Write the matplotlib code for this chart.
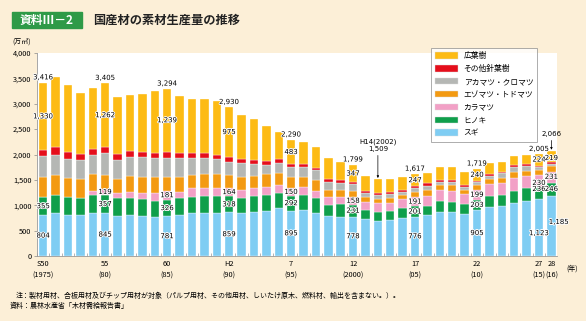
import numpy as np
import matplotlib
matplotlib.use("Agg")
import matplotlib.pyplot as plt
import matplotlib.patheffects as pe
from matplotlib.patches import Patch, Rectangle

plt.rcParams['font.family'] = ['Noto Sans CJK JP', 'DejaVu Sans']

# 素材生産量（万㎥）1975(S50)〜2016(H28)
years = list(range(1975, 2017))
sugi = [804, 841, 808, 808, 841, 845, 788, 808, 788, 775,
        781, 808, 841, 841, 841, 859, 841, 874, 894, 940,
        895, 907, 854, 788, 775, 778, 723, 696, 710, 742,
        776, 808, 874, 874, 821, 905, 972, 986, 1051, 1091,
        1123, 1185]
hinoki = [355, 355, 348, 342, 368, 357, 349, 342, 336, 316,
          326, 335, 329, 342, 348, 318, 309, 309, 308, 308,
          292, 295, 283, 217, 243, 231, 184, 178, 177, 197,
          201, 178, 210, 197, 204, 203, 211, 216, 230, 243,
          236, 246]
karamatsu = [0, 0, 0, 0, 79, 119, 98, 105, 124, 157,
             181, 125, 164, 151, 158, 164, 151, 151, 151, 152,
             150, 151, 151, 151, 138, 158, 164, 164, 164, 178,
             191, 197, 217, 217, 191, 199, 230, 230, 250, 249,
             230, 231]
ezo_todo = [391, 407, 388, 374, 328, 282, 276, 322, 316, 316,
            276, 282, 263, 282, 269, 249, 263, 243, 257, 229,
            227, 198, 210, 145, 145, 114, 99, 79, 86, 85,
            100, 118, 98, 111, 85, 92, 98, 112, 131, 99,
            110, 110]
aka_kuro = [421, 388, 361, 368, 368, 421, 381, 381, 381, 361,
            361, 375, 328, 309, 289, 269, 263, 230, 184, 198,
            180, 197, 197, 164, 144, 135, 78, 85, 78, 66,
            70, 79, 66, 66, 66, 50, 66, 85, 86, 92,
            50, 45]
sonota = [115, 151, 145, 125, 132, 119, 118, 118, 111, 112,
          130, 112, 99, 99, 92, 96, 78, 85, 85, 85,
          63, 59, 46, 46, 53, 36, 33, 33, 40, 33,
          32, 52, 33, 33, 33, 30, 33, 33, 39, 33,
          32, 30]
kouyouju = [1330, 1386, 1323, 1196, 1203, 1262, 1122, 1103, 1138, 1213,
            1239, 1116, 1061, 1066, 1048, 975, 875, 808, 676, 538,
            483, 443, 399, 419, 362, 347, 289, 274, 256, 249,
            247, 213, 262, 257, 250, 240, 216, 184, 193, 184,
            224, 219]

names = ['スギ', 'ヒノキ', 'カラマツ', 'エゾマツ・トドマツ',
         'アカマツ・クロマツ', 'その他針葉樹', '広葉樹']
series = [sugi, hinoki, karamatsu, ezo_todo, aka_kuro, sonota, kouyouju]
colors = ['#7FCDF3', '#0F9F4B', '#F2A0C6', '#F39A12',
          '#B5B7B4', '#E50E1B', '#FDBB14']

tick_idx = [0, 5, 10, 15, 20, 25, 30, 35, 40, 41]
tick_lab = ['S50\n(1975)', '55\n(80)', '60\n(85)', 'H2\n(90)', '7\n(95)',
            '12\n(2000)', '17\n(05)', '22\n(10)', '27\n(15)', '28\n(16)']

bg = '#FCEFD7'
fig = plt.figure(figsize=(5.86, 3.21), dpi=100, facecolor=bg)
ax = fig.add_axes([37/586, 1-256/321, (557-37)/586, (256-53)/321])
ax.set_facecolor('white')

x = np.arange(len(years))
bottom = np.zeros(len(years))
for vals, c, n in zip(series, colors, names):
    ax.bar(x, vals, 0.68, bottom=bottom, color=c, edgecolor='white',
           linewidth=0.25, label=n, zorder=2)
    bottom += np.array(vals)
total = bottom

ax.set_xlim(-0.45, 41.45)
ax.set_ylim(0, 4000)
ax.set_yticks(range(0, 4001, 500))
ax.set_yticklabels([f'{v:,}' for v in range(0, 4001, 500)], fontsize=5.3)
ax.set_xticks(tick_idx)
ax.set_xticklabels(tick_lab, fontsize=5.3, linespacing=1.5)
ax.set_xticks(np.arange(-0.5, 41.5, 1), minor=True)
ax.tick_params(axis='x', which='major', length=0, pad=3)
ax.tick_params(axis='x', which='minor', length=2, direction='in', color='#999999', width=0.5)
ax.tick_params(axis='y', length=2, width=0.5, color='#888888', pad=2)
for s in ['top', 'right']:
    ax.spines[s].set_visible(False)
for s in ['left', 'bottom']:
    ax.spines[s].set_color('#999999')
    ax.spines[s].set_linewidth(0.6)

halo = [pe.withStroke(linewidth=1.2, foreground='white')]
def lab(xx, yy, v, **kw):
    ax.text(xx, yy, f'{v:,}', ha='center', va='center', fontsize=5,
            family='DejaVu Sans', path_effects=halo, zorder=5, **kw)

cum = np.cumsum(np.array(series), axis=0)
for i in tick_idx:
    b_sugi = sugi[i] / 2
    b_hin = cum[0][i] + hinoki[i] / 2
    b_kar = cum[1][i] + karamatsu[i] / 2
    b_kou = cum[5][i] + kouyouju[i] / 2
    if i == 40:
        b_sugi, b_hin, b_kar, b_kou = 450, 1320, 1440, 1900
    if i == 41:
        b_sugi, b_hin, b_kar, b_kou = 670, 1320, 1560, 1930
    dx = 0.6 if i == 41 else 0
    lab(i + dx, b_sugi, sugi[i])
    lab(i, b_hin, hinoki[i])
    if karamatsu[i] > 0:
        lab(i, b_kar, karamatsu[i])
    lab(i, b_kou, kouyouju[i])
    if i != 41:
        ax.text(i, total[i] + 45, f'{int(total[i]):,}', ha='center', va='bottom',
                fontsize=5, family='DejaVu Sans', path_effects=halo, zorder=5)

arr = dict(arrowstyle='-|>', lw=0.5, color='black', mutation_scale=3,
           shrinkA=0.5, shrinkB=1)
ax.annotate(f'{int(total[41]):,}', xy=(41, total[41]), xytext=(41, 2345),
            ha='center', va='bottom', fontsize=5, family='DejaVu Sans',
            arrowprops=arr, zorder=5, annotation_clip=False)
i02 = years.index(2002)
ax.annotate(f'H14(2002)\n{int(total[i02]):,}', xy=(i02, total[i02]),
            xytext=(i02, 2050), ha='center', va='bottom', fontsize=5,
            family='DejaVu Sans', linespacing=1.1, arrowprops=arr, zorder=5)

# legend
handles = [Patch(facecolor=c, edgecolor='#dddddd', linewidth=0.3, label=n)
           for c, n in zip(colors, names)][::-1]
leg = fig.legend(handles=handles, loc='upper left',
                 bbox_to_anchor=(427/586, 1-44/321), fontsize=5.6,
                 frameon=True, fancybox=False, edgecolor='#888888',
                 handlelength=2.9, handleheight=0.85, labelspacing=0.62,
                 borderpad=0.55, handletextpad=0.75)
leg.get_frame().set_linewidth(0.6)

# title, units, notes
fig.patches.append(Rectangle((12/586, 1-28/321), 70/586, 16/321,
                             transform=fig.transFigure, color='#2E9A47'))
fig.text(47/586, 1-20/321, '資料Ⅲ－2', color='white', fontsize=8.5,
         fontweight='bold', ha='center', va='center')
fig.text(93/586, 1-20/321, '国産材の素材生産量の推移', fontsize=8.8,
         fontweight='bold', ha='left', va='center', color='#222222')
fig.text(12/586, 1-43/321, '(万㎥)', fontsize=5, ha='left', va='center')
fig.text(566/586, 1-269/321, '(年)', fontsize=5, ha='left', va='center')
fig.text(16/586, 1-296/321,
         '注：製材用材、合板用材及びチップ用材が対象（パルプ用材、その他用材、しいたけ原木、燃料材、輸出を含まない。）。',
         fontsize=5, ha='left', va='center')
fig.text(10/586, 1-306/321, '資料：農林水産省「木材需給報告書」',
         fontsize=5, ha='left', va='center')

fig.savefig('out.png', dpi=100, facecolor=bg)
